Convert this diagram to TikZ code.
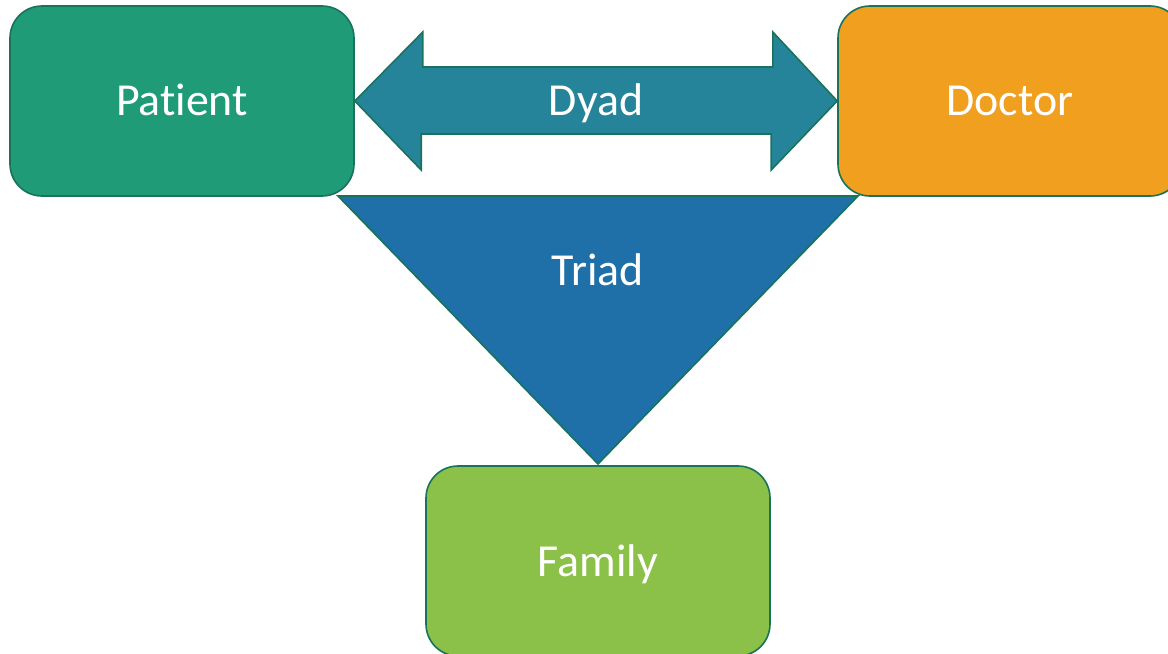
\documentclass[tikz,border=0pt]{standalone}
\usepackage{fontspec}
\setmainfont[RawFeature={-liga;-clig;-calt;-dlig}]{Carlito}
\usetikzlibrary{calc}
\definecolor{edgec}{HTML}{18735A}
\definecolor{patc}{HTML}{1F9B78}
\definecolor{docc}{HTML}{F09F1E}
\definecolor{famc}{HTML}{8BC148}
\definecolor{arrc}{HTML}{25849A}
\definecolor{tric}{HTML}{1F6FA8}
\tikzset{
  box/.style={draw=edgec, line width=1.6bp, rounded corners=32bp, minimum width=344bp, minimum height=190bp, inner sep=0pt, text=white, font=\fontsize{46}{50}\selectfont, text height=30bp, text depth=0pt},
  shapec/.style={draw=edgec, line width=1.6bp, line join=miter},
  lbl/.style={text=white, font=\fontsize{46}{50}\selectfont, inner sep=0pt, text height=30bp, text depth=0pt}
}
\begin{document}
\begin{tikzpicture}[x=1bp, y=-1bp]
\useasboundingbox (0,0) rectangle (1168,654);
\coordinate (pc) at (182,101);
\coordinate (dc) at (1010,101);
\coordinate (fc) at (598,561);
% triangle
\coordinate (tl) at (338,196);
\coordinate (tr) at (858,196);
\coordinate (tb) at (598,464);
\filldraw[shapec, fill=tric] (tl) -- (tr) -- (tb) -- cycle;
\node[lbl] (triad) at (598,270) {Triad};
% boxes
\node[box, fill=patc] (patient) at (pc) {Pat\kern0ptient};
\node[box, fill=docc] (doctor) at (dc) {Doctor};
\node[box, fill=famc] (family) at (fc) {Family};
% double arrow
\filldraw[shapec, fill=arrc] (patient.east) -- ++(68,-69) -- ++(0,35) -- ++(350,0) -- ++(0,-35)
  -- (doctor.west) -- ++(-66,69) -- ++(0,-36) -- ++(-350,0) -- ++(0,36) -- cycle;
\node[lbl] (dyad) at (596,101) {Dyad};
\end{tikzpicture}
\end{document}
